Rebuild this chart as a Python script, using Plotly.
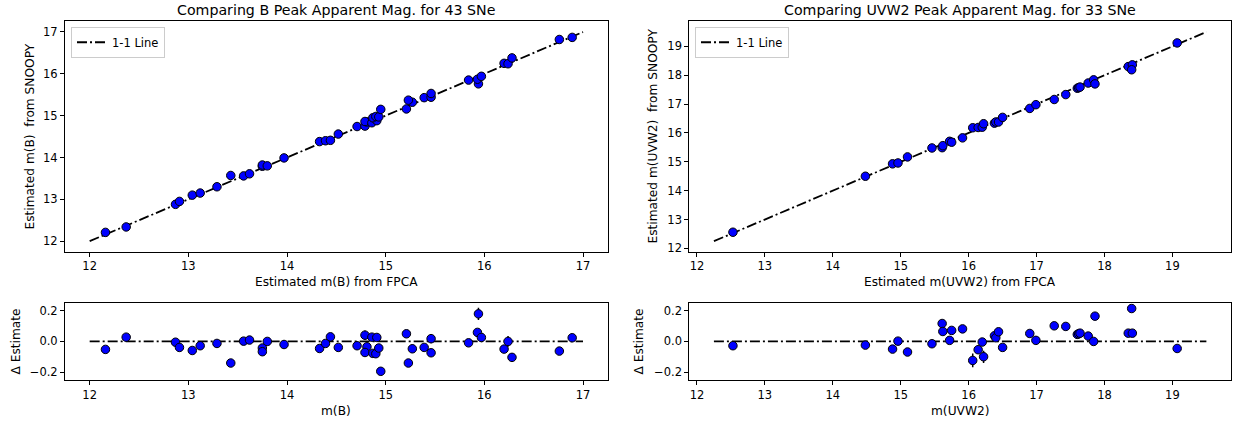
import plotly.graph_objects as go

# ---------------- data ----------------
# B band: FPCA estimate, SNOOPY estimate, residual (FPCA - SNOOPY), residual error
b_fpca = [12.16, 12.37, 12.87, 12.91, 13.04, 13.12, 13.29, 13.43, 13.56, 13.62,
          13.75, 13.75, 13.80, 13.97, 14.33, 14.39, 14.44, 14.52, 14.71, 14.79,
          14.81, 14.79, 14.86, 14.91, 14.87, 14.90, 14.93, 14.95, 15.21, 15.27,
          15.23, 15.39, 15.46, 15.46, 15.84, 15.94, 15.93, 15.97, 16.20, 16.24,
          16.28, 16.76, 16.89]
b_snoopy = [12.21, 12.34, 12.88, 12.95, 13.10, 13.15, 13.30, 13.57, 13.56, 13.61,
            13.79, 13.82, 13.80, 13.99, 14.38, 14.40, 14.41, 14.56, 14.74, 14.75,
            14.85, 14.86, 14.83, 14.88, 14.95, 14.98, 14.97, 15.15, 15.16, 15.32,
            15.37, 15.43, 15.44, 15.53, 15.85, 15.76, 15.87, 15.94, 16.25, 16.24,
            16.38, 16.82, 16.87]
b_delta = [-0.052, 0.028, -0.005, -0.039, -0.059, -0.028, -0.013, -0.141, 0.002, 0.009,
           -0.043, -0.067, 0.000, -0.020, -0.046, -0.013, 0.030, -0.039, -0.028, 0.041,
           -0.035, -0.072, 0.028, 0.026, -0.078, -0.080, -0.043, -0.195, 0.050, -0.048,
           -0.141, -0.039, 0.018, -0.074, -0.009, 0.180, 0.059, 0.026, -0.050, 0.000,
           -0.104, -0.063, 0.024]
b_delta_err = [0.012, 0.012, 0.012, 0.012, 0.012, 0.012, 0.012, 0.012, 0.012, 0.012,
               0.015, 0.012, 0.012, 0.012, 0.012, 0.012, 0.015, 0.012, 0.012, 0.030,
               0.012, 0.012, 0.012, 0.012, 0.012, 0.012, 0.015, 0.012, 0.012, 0.028,
               0.012, 0.012, 0.030, 0.012, 0.012, 0.040, 0.012, 0.012, 0.012, 0.035,
               0.012, 0.015, 0.012]
b_line = [12.0, 17.0]

# UVW2 band
u_fpca = [12.53, 14.48, 14.88, 14.96, 15.10, 15.46, 15.61, 15.62, 15.72, 15.75,
          15.91, 16.06, 16.14, 16.20, 16.22, 16.38, 16.40, 16.44, 16.50, 16.90,
          16.99, 17.26, 17.43, 17.60, 17.62, 17.64, 17.76, 17.84, 17.86, 18.35,
          18.41, 18.40, 19.07]
u_snoopy = [12.56, 14.50, 14.93, 14.96, 15.17, 15.48, 15.49, 15.56, 15.71, 15.68,
            15.83, 16.18, 16.19, 16.20, 16.32, 16.34, 16.38, 16.38, 16.54, 16.85,
            16.98, 17.16, 17.33, 17.55, 17.57, 17.59, 17.73, 17.84, 17.70, 18.30,
            18.36, 18.19, 19.12]
u_delta = [-0.028, -0.024, -0.050, 0.002, -0.069, -0.015, 0.117, 0.065, 0.007, 0.072,
           0.082, -0.124, -0.054, -0.004, -0.100, 0.037, 0.024, 0.063, -0.039, 0.052,
           0.007, 0.102, 0.098, 0.046, 0.050, 0.054, 0.035, 0.000, 0.165, 0.054,
           0.054, 0.215, -0.046]
u_delta_err = [0.012, 0.012, 0.012, 0.012, 0.012, 0.012, 0.012, 0.012, 0.012, 0.012,
               0.012, 0.045, 0.015, 0.015, 0.040, 0.012, 0.012, 0.012, 0.012, 0.012,
               0.012, 0.012, 0.012, 0.012, 0.012, 0.012, 0.012, 0.012, 0.015, 0.012,
               0.012, 0.012, 0.012]
u_line = [12.25, 19.5]

titles = ["Comparing B Peak Apparent Mag. for 43 SNe",
          "Comparing UVW2 Peak Apparent Mag. for 33 SNe"]

# ---------------- styling ----------------
W, H = 1233, 429
FONT = "DejaVu Sans, Liberation Sans, sans-serif"
TICK_FS = 11.5
LABEL_FS = 12.2
TITLE_FS = 14.2
MARK = dict(color="#0000ff", size=8.5, line=dict(color="black", width=1))
DASH = "10px,3px,2px,3px"
LINE = dict(color="black", width=1.8, dash=DASH)


def px_x(p):
    return p / W


def px_y(p):
    return 1 - p / H


L_DOM = [px_x(65), px_x(607.7)]
R_DOM = [px_x(689.3), px_x(1231)]
TOP_DOM = [px_y(254), px_y(21.7)]
BOT_DOM = [px_y(383.3), px_y(306)]

fig = go.Figure()

# top-left
fig.add_trace(go.Scatter(x=b_line, y=b_line, mode="lines", line=LINE, name="1-1 Line",
                         xaxis="x", yaxis="y", legend="legend"))
fig.add_trace(go.Scatter(x=b_fpca, y=b_snoopy, mode="markers", marker=MARK,
                         showlegend=False, xaxis="x", yaxis="y"))
# bottom-left
fig.add_trace(go.Scatter(x=b_line, y=[0, 0], mode="lines", line=LINE, showlegend=False,
                         xaxis="x2", yaxis="y2"))
fig.add_trace(go.Scatter(x=b_fpca, y=b_delta, mode="markers", marker=MARK,
                         error_y=dict(type="data", array=b_delta_err, color="black",
                                      thickness=1.5, width=0),
                         showlegend=False, xaxis="x2", yaxis="y2"))
# top-right
fig.add_trace(go.Scatter(x=u_line, y=u_line, mode="lines", line=LINE, name="1-1 Line",
                         xaxis="x3", yaxis="y3", legend="legend2"))
fig.add_trace(go.Scatter(x=u_fpca, y=u_snoopy, mode="markers", marker=MARK,
                         showlegend=False, xaxis="x3", yaxis="y3"))
# bottom-right
fig.add_trace(go.Scatter(x=u_line, y=[0, 0], mode="lines", line=LINE, showlegend=False,
                         xaxis="x4", yaxis="y4"))
fig.add_trace(go.Scatter(x=u_fpca, y=u_delta, mode="markers", marker=MARK,
                         error_y=dict(type="data", array=u_delta_err, color="black",
                                      thickness=1.5, width=0),
                         showlegend=False, xaxis="x4", yaxis="y4"))


def ax(domain, rng, anchor, tickvals, fmt=None):
    d = dict(domain=domain, range=rng, anchor=anchor, showgrid=False, zeroline=False,
             showline=True, mirror=True, linecolor="black", linewidth=1,
             ticks="outside", ticklen=4, tickwidth=1, tickcolor="black",
             tickvals=tickvals, tickfont=dict(size=TICK_FS, color="black", family=FONT))
    if fmt:
        d["tickformat"] = fmt
    return d


b_rng = [11.75, 17.25]
u_rng = [11.8875, 19.8625]
b_ticks = [12, 13, 14, 15, 16, 17]
u_ticks = [12, 13, 14, 15, 16, 17, 18, 19]
d_ticks = [-0.2, 0.0, 0.2]

fig.update_layout(
    width=W, height=H, margin=dict(l=0, r=0, t=0, b=0),
    paper_bgcolor="white", plot_bgcolor="white",
    font=dict(family=FONT, color="black", size=TICK_FS),
    xaxis=ax(L_DOM, b_rng, "y", b_ticks),
    yaxis=ax(TOP_DOM, b_rng, "x", b_ticks),
    xaxis2=ax(L_DOM, b_rng, "y2", b_ticks),
    yaxis2=ax(BOT_DOM, [-0.25, 0.25], "x2", d_ticks, ".1f"),
    xaxis3=ax(R_DOM, u_rng, "y3", u_ticks),
    yaxis3=ax(TOP_DOM, u_rng, "x3", u_ticks),
    xaxis4=ax(R_DOM, u_rng, "y4", u_ticks),
    yaxis4=ax(BOT_DOM, [-0.25, 0.25], "x4", d_ticks, ".1f"),
    legend=dict(x=px_x(71), y=px_y(27), xanchor="left", yanchor="top",
                bgcolor="white", bordercolor="#cccccc", borderwidth=1,
                font=dict(size=TICK_FS, family=FONT), itemwidth=30,
                tracegroupgap=0),
    legend2=dict(x=px_x(695), y=px_y(27), xanchor="left", yanchor="top",
                 bgcolor="white", bordercolor="#cccccc", borderwidth=1,
                 font=dict(size=TICK_FS, family=FONT), itemwidth=30,
                 tracegroupgap=0),
)

ann = []


def text(x, y, s, size=LABEL_FS, angle=0):
    ann.append(dict(x=px_x(x), y=px_y(y), xref="paper", yref="paper", text=s,
                    showarrow=False, textangle=angle, xanchor="center", yanchor="middle",
                    font=dict(size=size, family=FONT, color="black")))


cx_l = (65 + 607.7) / 2
cx_r = (689.3 + 1231) / 2
text(cx_l, 10, titles[0], size=TITLE_FS)
text(cx_r, 10, titles[1], size=TITLE_FS)
text(cx_l, 285, "Estimated m(B) from FPCA")
text(cx_r, 285, "Estimated m(UVW2) from FPCA")
text(cx_l, 415, "m(B)")
text(cx_r, 415, "m(UVW2)")
text(30, (21.7 + 254) / 2, "Estimated m(B)  from SNOOPY", angle=-90)
text(653, (21.7 + 254) / 2, "Estimated m(UVW2)  from SNOOPY", angle=-90)
text(16, (306 + 383.3) / 2, "Δ Estimate", angle=-90)
text(639, (306 + 383.3) / 2, "Δ Estimate", angle=-90)
fig.update_layout(annotations=ann)

fig.write_html("out.html")
